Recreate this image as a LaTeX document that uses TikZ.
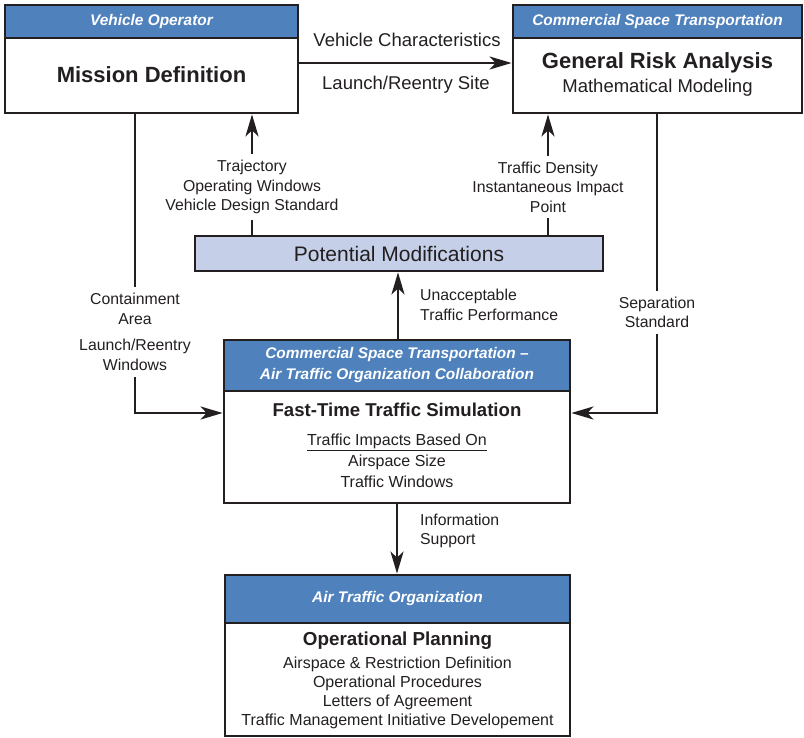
\documentclass[tikz,border=0pt]{standalone}
\usepackage{fontspec}
\setmainfont{Liberation Sans}
\usetikzlibrary{arrows.meta}
\definecolor{ink}{HTML}{231F20}
\definecolor{hdrblue}{HTML}{4F81BD}
\definecolor{modfill}{HTML}{C5D0E8}
\begin{document}
\begin{tikzpicture}[x=1pt,y=-1pt,
  box/.style={draw=ink, line width=2.8pt, fill=white, inner sep=0pt},
  hdr/.style={draw=ink, line width=2.8pt, fill=hdrblue, text=white, align=center,
    font=\fontsize{15.4}{21}\selectfont\bfseries\itshape, inner sep=0pt, anchor=north},
  arr/.style={draw=ink, line width=2.3pt, -{Stealth[length=22pt,width=13pt,inset=6pt]}},
  lbl/.style={text=ink, font=\fontsize{15.8}{19.5}\selectfont, align=center, inner sep=0pt},
  wlbl/.style={lbl, fill=white, inner sep=6pt},
  ttl/.style={text=ink, font=\fontsize{22}{26}\selectfont\bfseries, inner sep=0pt},
  sub/.style={text=ink, font=\fontsize{18.6}{22}\selectfont\bfseries, inner sep=0pt},
  big/.style={text=ink, font=\fontsize{18.5}{22}\selectfont, inner sep=0pt},
  body/.style={text=ink, font=\fontsize{16}{19}\selectfont, align=center, inner sep=0pt}
]
\useasboundingbox (0,0) rectangle (804,738);

% Mission Definition
\node[box, minimum width=293pt, minimum height=108pt] (md) at (151.5,59) {};
\node[hdr, minimum width=293pt, minimum height=33pt] (mdh) at (md.north) {Vehicle Operator};
\node[ttl] (mdt) at (151.5,75) {Mission Definition};

% General Risk Analysis
\node[box, minimum width=289pt, minimum height=108pt] (gr) at (657.5,59) {};
\node[hdr, minimum width=289pt, minimum height=33pt] (grh) at (gr.north) {Commercial Space Transportation};
\node[ttl] (grt) at (657.5,63) {General Risk Analysis};
\node[big] (grs) at (657.5,88) {Mathematical Modeling};

% Potential Modifications
\node[box, fill=modfill, minimum width=408pt, minimum height=35pt, text=ink,
  font=\fontsize{21}{25}\selectfont] (pm) at (399,253.5) {Potential Modifications};

% Collaboration
\node[box, minimum width=346pt, minimum height=163pt] (cb) at (397,421.5) {};
\node[hdr, minimum width=346pt, minimum height=51pt] (cbh) at (cb.north)
  {Commercial Space Transportation –\\Air Traffic Organization Collaboration};
\node[sub] (cbt) at (397,410) {Fast-Time Traffic Simulation};
\node[body, font=\fontsize{16}{21}\selectfont] (cbl) at (397,461)
  {\underline{Traffic Impacts Based On}\\Airspace Size\\Traffic Windows};

% Air Traffic Organization
\node[box, minimum width=345pt, minimum height=161pt] (ato) at (397.5,655.5) {};
\node[hdr, minimum width=345pt, minimum height=48pt] (atoh) at (ato.north) {Air Traffic Organization};
\node[sub, font=\fontsize{18.8}{22}\selectfont\bfseries] (atot) at (397.5,641) {Operational Planning};
\node[body] (atol) at (397.5,693)
  {Airspace \& Restriction Definition\\Operational Procedures\\Letters of Agreement\\Traffic Management Initiative Developement};

% coordinates
\coordinate (yVC) at (0,63);
\coordinate (xT) at (252,0);
\coordinate (xD) at (548,0);
\coordinate (xU) at (398,0);
\coordinate (xI) at (397,0);
\coordinate (xC) at (135,0);
\coordinate (xS) at (657,0);
\coordinate (yS) at (0,413);

% connectors
\draw[arr] (md.east |- yVC) -- (gr.west |- yVC);
\node[big] (vc) at (407,40) {Vehicle Characteristics};
\node[big] (lrs) at (406,85) {Launch/Reentry Site};

\draw[arr] (pm.north -| xT) -- (md.south -| xT);
\node[wlbl] (trj) at (252,187) {Trajectory\\Operating Windows\\Vehicle Design Standard};

\draw[arr] (pm.north -| xD) -- (gr.south -| xD);
\node[wlbl] (tdn) at (548,187) {Traffic Density\\Instantaneous Impact\\Point};

\draw[arr] (cb.north -| xU) -- (pm.south -| xU);
\node[lbl, anchor=west, align=left] (unac) at (420,305) {Unacceptable\\Traffic Performance};

\draw[arr] (md.south -| xC) |- (cb.west |- yS);
\node[wlbl] (cont) at (135,332) {Containment\\Area\\[7pt]Launch/Reentry\\Windows};

\draw[arr] (gr.south -| xS) |- (cb.east |- yS);
\node[wlbl] (sep) at (657,312.5) {Separation\\Standard};

\draw[arr] (cb.south -| xI) -- (ato.north -| xI);
\node[lbl, anchor=west, align=left] (info) at (420,531) {Information\\Support};
\end{tikzpicture}
\end{document}
